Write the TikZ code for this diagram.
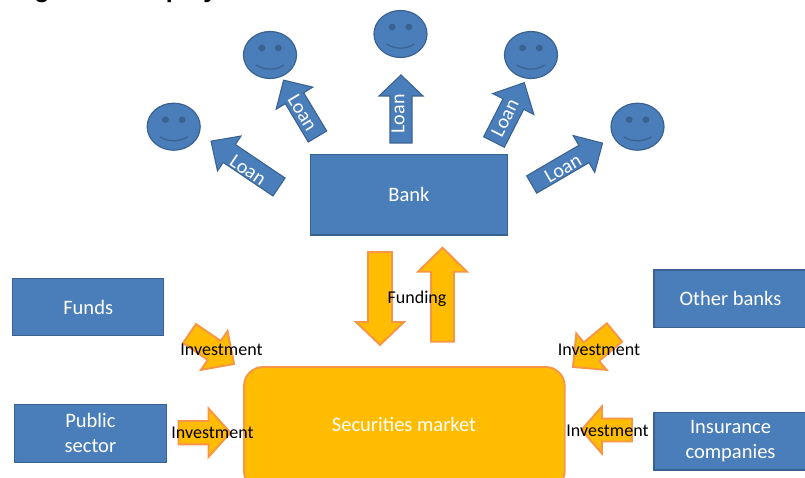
\documentclass[tikz,border=0pt]{standalone}
\usepackage{fontspec}
\setmainfont{Carlito}
\newfontfamily\titlefont{Liberation Sans}
\usetikzlibrary{shapes.geometric}
\definecolor{bluefill}{HTML}{4A7EBB}
\definecolor{blueedge}{HTML}{3A6291}
\definecolor{goldfill}{HTML}{FFBC00}
\definecolor{goldedge}{HTML}{F79646}
\tikzset{
  x=1pt,y=-1pt,
  blockbox/.style={draw=blueedge,fill=bluefill,line width=1.4pt,text=white,align=center,font=\fontsize{20.5}{25}\selectfont,inner sep=0pt,anchor=north west},
  facehead/.style={draw=blueedge,fill=bluefill,line width=1.2pt},
  facefeat/.style={fill=blueedge,draw=none},
  loanarrow/.style={draw=blueedge,fill=bluefill,line width=1.1pt,line join=miter},
  goldarrow/.style={draw=goldedge,fill=goldfill,line width=1.9pt,line join=miter},
  loantext/.style={text=white,font=\fontsize{20}{24}\selectfont,inner sep=0pt},
  investtext/.style={text=black,font=\fontsize{18}{22}\selectfont,inner sep=0pt},
}
% #1 tail centre, #2 visual angle, #3 length, #4 half shaft, #5 head length, #6 half head, #7 style
\newcommand{\blockarrow}[7]{%
  \begin{scope}[shift={#1},rotate=#2]
    \draw[#7] (0,-#4) -- ({#3-#5},-#4) -- ({#3-#5},-#6) -- (#3,0) -- ({#3-#5},#6) -- ({#3-#5},#4) -- (0,#4) -- cycle;
  \end{scope}}
\newcommand{\smiley}[3]{%
  \begin{scope}[shift={(#1,#2)}]
    \node[facehead,draw,ellipse,minimum width=53pt,minimum height=47pt,inner sep=0pt] (#3) at (0,0) {};
    \fill[facefeat] (-8.3,-7) ellipse (3.5pt and 3.3pt);
    \fill[facefeat] (8.3,-7) ellipse (3.5pt and 3.3pt);
    \draw[blueedge,line width=1.2pt] (-14,10) .. controls (-6,15.5) and (6,15.5) .. (14,10);
  \end{scope}}
\begin{document}
\begin{tikzpicture}
\useasboundingbox (0,0) rectangle (805,478);
\fill[white] (0,0) rectangle (805,478);
\begin{scope}
\clip (0,0) rectangle (805,478);
\node[anchor=base west,font=\titlefont\bfseries\fontsize{25}{28}\selectfont,inner sep=0pt] (ttl) at (12,-2.7) {Figure 1: Employment};

\node[blockbox,minimum width=196.5pt,minimum height=80.5pt] (bank) at (310,154) {\raisebox{-1pt}{Bank}};
\node[blockbox,minimum width=151pt,minimum height=57pt] (funds) at (12,278) {Funds};
\node[blockbox,minimum width=153pt,minimum height=57.5pt] (other) at (653.3,269.3) {Other banks};
\node[blockbox,minimum width=152pt,minimum height=58pt] (public) at (13.7,403.5) {Public\\sector};
\node[blockbox,minimum width=153pt,minimum height=57.5pt] (ins) at (653.3,411.7) {Insurance\\companies};
\draw[goldedge,fill=goldfill,line width=1.9pt,rounded corners=19pt] (244,367) rectangle (564.7,490);
\node[text=white,font=\fontsize{20.5}{25}\selectfont,inner sep=0pt] (mkt) at (404,424) {Securities market};

\smiley{173.7}{126.7}{f1}
\smiley{270}{55}{f2}
\smiley{400.5}{34}{f3}
\smiley{531}{55}{f4}
\smiley{637.5}{126.7}{f5}

\blockarrow{(279,187)}{146}{82}{10.8}{22}{21}{loanarrow}
\blockarrow{(317.5,136.5)}{121}{65.7}{10.7}{21}{21.4}{loanarrow}
\blockarrow{(401,143)}{90}{68}{11}{21}{22}{loanarrow}
\blockarrow{(494,142)}{63}{66.6}{11.6}{24}{23}{loanarrow}
\blockarrow{(531.7,184.5)}{30.3}{82}{10}{21.5}{21.3}{loanarrow}

\node[loantext,rotate=-34] (l1) at (248,170) {Loan};
\node[loantext,rotate=-59] (l2) at (302.5,113) {Loan};
\node[loantext,rotate=90] (l3) at (398,114) {Loan};
\node[loantext,rotate=63] (l4) at (505,118) {Loan};
\node[loantext,rotate=30] (l5) at (563,168.5) {Loan};

\blockarrow{(380,252)}{-90}{93}{12}{23}{24}{goldarrow}
\blockarrow{(442.5,341.7)}{90}{94}{11.5}{24}{24.5}{goldarrow}
\blockarrow{(189.5,333.5)}{-34.4}{54}{11.5}{24}{23.6}{goldarrow}
\blockarrow{(178.5,432.7)}{0}{52}{11.7}{22}{24.3}{goldarrow}
\blockarrow{(614.5,332.5)}{219.7}{54}{12}{24}{23.7}{goldarrow}
\blockarrow{(632,430)}{180}{50.5}{11.5}{20.5}{23.7}{goldarrow}

\node[investtext] (fundtxt) at (417,299) {Funding};
\node[investtext] (i1) at (221.5,350) {Investment};
\node[investtext] (i2) at (212.5,433) {Investment};
\node[investtext] (i3) at (599,350) {Investment};
\node[investtext] (i4) at (607.5,430.5) {Investment};
\end{scope}
\end{tikzpicture}
\end{document}
